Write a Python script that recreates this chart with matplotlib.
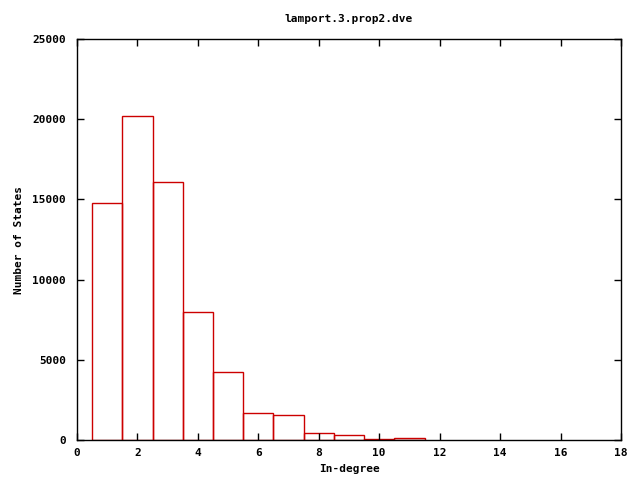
import matplotlib
matplotlib.use('Agg')
import matplotlib.pyplot as plt

# in-degree histogram values
degrees = [1, 2, 3, 4, 5, 6, 7, 8, 9, 10, 11]
counts = [14800, 20200, 16070, 7970, 4240, 1670, 1550, 440, 310, 70, 110]

plt.rcParams['font.family'] = 'DejaVu Sans Mono'
plt.rcParams['font.weight'] = 'bold'
plt.rcParams['font.size'] = 8

fig = plt.figure(figsize=(6.4, 4.8), dpi=100)
ax = fig.add_axes([77/640, 40/480, 544/640, 401/480])

ax.bar(degrees, counts, width=1.0, facecolor='none', edgecolor='#cc0000', linewidth=1)

ax.set_xlim(0, 18)
ax.set_ylim(0, 25000)
ax.set_xticks(range(0, 19, 2))
ax.set_yticks(range(0, 25001, 5000))
ax.tick_params(direction='in', top=True, right=True, length=5, width=1, labelsize=8)
ax.tick_params(axis='y', pad=8)
ax.tick_params(axis='x', pad=6)
for lab in ax.get_xticklabels() + ax.get_yticklabels():
    lab.set_fontweight('bold')
for s in ax.spines.values():
    s.set_linewidth(1)

ax.set_xlabel('In-degree', fontweight='bold', fontsize=8, labelpad=4)
ax.set_ylabel('Number of States', fontweight='bold', fontsize=8, labelpad=6)
ax.set_title('lamport.3.prop2.dve', fontweight='bold', fontsize=8, pad=12)

fig.savefig('out.png', dpi=100)
